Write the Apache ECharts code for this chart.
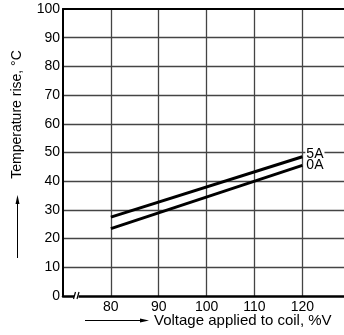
<!DOCTYPE html>
<html><head><meta charset="utf-8">
<script src="https://cdn.jsdelivr.net/npm/echarts@6/dist/echarts.min.js"></script>
<style>html,body{margin:0;padding:0;background:#fff}#c{width:344px;height:335px}</style>
</head><body><div id="c"></div>
<script>
const xTicks = [80, 90, 100, 110, 120];
const yTicks = [0, 10, 20, 30, 40, 50, 60, 70, 80, 90, 100];
const seriesNames = ['5A', '0A'];
const voltage = [80, 120];
const rise5A = [27.5, 48.5];
const rise0A = [23.5, 45.5];

const FONT = '"Liberation Sans", Arial, sans-serif';
const chart = echarts.init(document.getElementById('c'), null, {renderer: 'canvas'});
const mk = (vals) => voltage.map((v, i) => [v, vals[i]]);
const lineSeries = (name, vals, dy) => ({
  name, type: 'line', data: mk(vals), symbol: 'none', silent: true,
  lineStyle: {color: '#000', width: 3},
  endLabel: {show: true, formatter: name, color: '#000', fontFamily: FONT, fontSize: 14,
    lineHeight: 11, offset: [0, dy],
    backgroundColor: '#fff', distance: 3, padding: [0, 1, 0, 1]}
});
chart.setOption({
  animation: false,
  grid: {left: 63, right: 0, top: 9, bottom: 39, containLabel: false},
  xAxis: [{
    type: 'value', min: 70, max: 128.7, interval: 10,
    axisLine: {show: true, lineStyle: {color: '#000', width: 2.5}},
    axisTick: {show: false},
    axisLabel: {color: '#000', fontFamily: FONT, fontSize: 14, margin: 4,
      showMaxLabel: false, showMinLabel: false,
      formatter: v => xTicks.indexOf(v) >= 0 ? String(v) : ''},
    splitLine: {show: true, showMinLine: false, showMaxLine: false, lineStyle: {color: '#444', width: 1.3}}
  }, {
    type: 'value', position: 'top', min: 70, max: 128.7, interval: 10,
    axisLine: {show: true, lineStyle: {color: '#000', width: 2}},
    axisTick: {show: false}, axisLabel: {show: false}, splitLine: {show: false}
  }],
  yAxis: {
    type: 'value', min: 0, max: 100, interval: 10,
    axisLine: {show: true, lineStyle: {color: '#000', width: 2}},
    axisTick: {show: false},
    axisLabel: {color: '#000', fontFamily: FONT, fontSize: 14, margin: 3,
      formatter: v => yTicks.indexOf(v) >= 0 ? String(v) : ''},
    splitLine: {show: true, showMinLine: false, showMaxLine: false, lineStyle: {color: '#444', width: 1.3}}
  },
  series: [lineSeries(seriesNames[0], rise5A, -3), lineSeries(seriesNames[1], rise0A, 0)],
  graphic: [
    {type: 'text', x: 17.5, y: 114.5, rotation: Math.PI / 2,
      style: {text: 'Temperature rise, °C', font: '14px ' + FONT, fill: '#000', align: 'center', verticalAlign: 'middle'}},
    {type: 'line', shape: {x1: 17.5, y1: 258, x2: 17.5, y2: 201}, style: {stroke: '#000', lineWidth: 1}},
    {type: 'polygon', shape: {points: [[17.5, 195], [15.5, 204], [19.5, 204]]}, style: {fill: '#000'}},
    {type: 'line', shape: {x1: 85, y1: 320.5, x2: 142, y2: 320.5}, style: {stroke: '#000', lineWidth: 1}},
    {type: 'polygon', shape: {points: [[149, 320.5], [140, 318.5], [140, 322.5]]}, style: {fill: '#000'}},
    {type: 'text', x: 154, y: 321,
      style: {text: 'Voltage applied to coil, %V', font: '15px ' + FONT, fill: '#000', align: 'left', verticalAlign: 'middle'}},
    {type: 'rect', shape: {x: 74, y: 293, width: 4.5, height: 6}, style: {fill: '#fff'}, z: 100},
    {type: 'line', shape: {x1: 73.5, y1: 299, x2: 75.5, y2: 292}, style: {stroke: '#000', lineWidth: 1.2}, z: 101},
    {type: 'line', shape: {x1: 77, y1: 299, x2: 79, y2: 292}, style: {stroke: '#000', lineWidth: 1.2}, z: 101}
  ]
});
</script></body></html>
